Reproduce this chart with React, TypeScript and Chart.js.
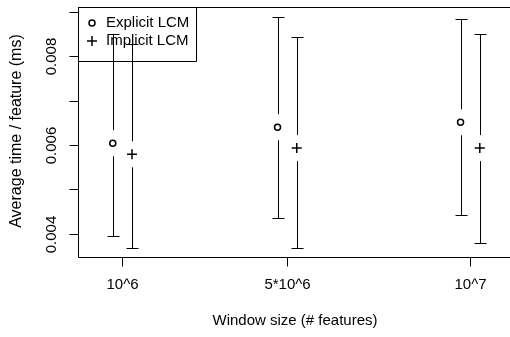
import React, { useEffect, useRef } from "react";
import { Chart, registerables } from "chart.js";

Chart.register(...registerables);

const categories = ["10^6", "5*10^6", "10^7"];
const xValues = [1, 1.9, 2.9];
const seriesNames = ["Explicit LCM", "Implicit LCM"];
const explicitMean = [0.00604, 0.0064, 0.00651];
const explicitLow = [0.00396, 0.00436, 0.00443];
const explicitHigh = [0.00849, 0.00889, 0.00883];
const implicitMean = [0.00579, 0.00593, 0.00593];
const implicitLow = [0.00369, 0.00368, 0.00379];
const implicitHigh = [0.00827, 0.00844, 0.0085];
const yTicks = [0.004, 0.005, 0.006, 0.007, 0.008, 0.009];
const yTickLabels = ["0.004", "", "0.006", "", "0.008", ""];
const xTitle = "Window size (# features)";
const yTitle = "Average time / feature (ms)";

const FONT = "15px 'Liberation Sans', Arial, sans-serif";
const YTITLE_FONT = "16px 'Liberation Sans', Arial, sans-serif";
const OFFSETS = [-0.05, 0.055];
const GAP = 13;

export default function App() {
  const ref = useRef<HTMLCanvasElement | null>(null);

  useEffect(() => {
    const canvas = ref.current;
    if (!canvas) return;

    const series = [
      { mean: explicitMean, low: explicitLow, high: explicitHigh },
      { mean: implicitMean, low: implicitLow, high: implicitHigh },
    ];

    const rPlugin = {
      id: "rStyle",
      beforeDatasetsDraw(chart: any) {
        const ctx = chart.ctx;
        const xs = chart.scales.x;
        const ys = chart.scales.y;
        ctx.save();
        ctx.strokeStyle = "#000";
        ctx.lineWidth = 1;
        series.forEach((s, si) => {
          s.mean.forEach((m, i) => {
            const px = Math.round(xs.getPixelForValue(xValues[i] + OFFSETS[si])) + 0.5;
            const pm = ys.getPixelForValue(m);
            const ph = Math.round(ys.getPixelForValue(s.high[i])) + 0.5;
            const pl = Math.round(ys.getPixelForValue(s.low[i])) + 0.5;
            ctx.beginPath();
            ctx.moveTo(px, ph);
            ctx.lineTo(px, pm - GAP);
            ctx.moveTo(px, pm + GAP);
            ctx.lineTo(px, pl);
            ctx.moveTo(px - 6, ph);
            ctx.lineTo(px + 6, ph);
            ctx.moveTo(px - 6, pl);
            ctx.lineTo(px + 6, pl);
            ctx.stroke();
          });
        });
        ctx.restore();
      },
      afterDraw(chart: any) {
        const ctx = chart.ctx;
        const xs = chart.scales.x;
        const ys = chart.scales.y;
        const a = chart.chartArea;
        ctx.save();
        ctx.strokeStyle = "#000";
        ctx.fillStyle = "#000";
        ctx.lineWidth = 1;
        const L = Math.round(a.left) + 0.5;
        const T = Math.round(a.top) + 0.5;
        const B = Math.round(a.bottom) + 0.5;
        const R = Math.round(a.right) + 0.5;
        // frame
        ctx.beginPath();
        ctx.moveTo(R, T);
        ctx.lineTo(L, T);
        ctx.lineTo(L, B);
        ctx.lineTo(R, B);
        ctx.lineTo(R, T);
        ctx.stroke();
        // y ticks
        ctx.font = FONT;
        yTicks.forEach((v, i) => {
          const py = Math.round(ys.getPixelForValue(v)) + 0.5;
          ctx.beginPath();
          ctx.moveTo(L, py);
          ctx.lineTo(L - 9, py);
          ctx.stroke();
          if (yTickLabels[i]) {
            ctx.save();
            ctx.translate(52, py);
            ctx.rotate(-Math.PI / 2);
            ctx.textAlign = "center";
            ctx.textBaseline = "middle";
            ctx.fillText(yTickLabels[i], 0, 0);
            ctx.restore();
          }
        });
        // x ticks
        xValues.forEach((v, i) => {
          const px = Math.round(xs.getPixelForValue(v)) + 0.5;
          ctx.beginPath();
          ctx.moveTo(px, B);
          ctx.lineTo(px, B + 9);
          ctx.stroke();
          ctx.textAlign = "center";
          ctx.textBaseline = "middle";
          ctx.fillText(categories[i], px, 285);
        });
        // titles
        ctx.textAlign = "center";
        ctx.textBaseline = "middle";
        ctx.fillText(xTitle, (a.left + a.right) / 2, 321);
        ctx.save();
        ctx.font = YTITLE_FONT;
        ctx.translate(17, 131);
        ctx.rotate(-Math.PI / 2);
        ctx.fillText(yTitle, 0, 0);
        ctx.restore();
        // legend
        ctx.beginPath();
        ctx.rect(L, T, 118, 54);
        ctx.stroke();
        ctx.textAlign = "left";
        ctx.fillText(seriesNames[0], 106, 23);
        ctx.fillText(seriesNames[1], 106, 41);
        ctx.lineWidth = 1.5;
        ctx.beginPath();
        ctx.arc(92, 23, 3, 0, Math.PI * 2);
        ctx.stroke();
        ctx.beginPath();
        ctx.moveTo(87, 41);
        ctx.lineTo(97, 41);
        ctx.moveTo(92, 36);
        ctx.lineTo(92, 46);
        ctx.stroke();
        ctx.restore();
      },
    };

    const chart = new Chart(canvas, {
      type: "scatter",
      data: {
        datasets: [
          {
            label: seriesNames[0],
            data: explicitMean.map((m, i) => ({ x: xValues[i] + OFFSETS[0], y: m })),
            pointStyle: "circle",
            pointRadius: 3,
            borderWidth: 1.5,
            borderColor: "#000",
            backgroundColor: "rgba(0,0,0,0)",
          },
          {
            label: seriesNames[1],
            data: implicitMean.map((m, i) => ({ x: xValues[i] + OFFSETS[1], y: m })),
            pointStyle: "cross",
            pointRadius: 5,
            borderWidth: 1.5,
            borderColor: "#000",
            backgroundColor: "#000",
          },
        ],
      },
      options: {
        animation: false,
        responsive: false,
        events: [],
        layout: { padding: { left: 78, top: 4, right: 8, bottom: 80 } },
        plugins: { legend: { display: false }, tooltip: { enabled: false } },
        scales: {
          x: { type: "linear", display: false, min: 0.76, max: 3.131 },
          y: { type: "linear", display: false, min: 0.003481, max: 0.009115 },
        },
      },
      plugins: [rPlugin],
    });

    return () => chart.destroy();
  }, []);

  return (
    <div style={{ position: "absolute", left: 0, top: 0, width: 510, height: 337, overflow: "hidden", background: "#fff" }}>
      <canvas ref={ref} width={520} height={337} style={{ width: 520, height: 337 }} />
    </div>
  );
}
